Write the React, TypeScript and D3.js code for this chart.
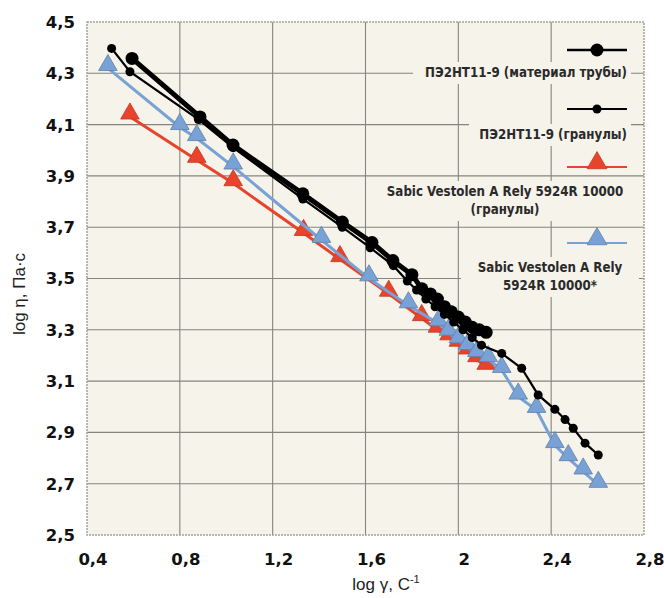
import React from "react";
import * as d3 from "d3";

// ПЭ2НТ11-9 (материал трубы) — крупные точки
const pipeX = [0.594, 0.887, 1.029, 1.33, 1.5, 1.628, 1.718, 1.8, 1.843, 1.88, 1.91, 1.94, 1.97, 2.0, 2.03, 2.06, 2.09, 2.12];
const pipeY = [4.358, 4.13, 4.02, 3.83, 3.72, 3.64, 3.57, 3.515, 3.46, 3.44, 3.42, 3.39, 3.37, 3.35, 3.33, 3.31, 3.3, 3.29];

// ПЭ2НТ11-9 (гранулы) — мелкие точки
const granX = [0.506, 0.585, 0.88, 1.03, 1.33, 1.5, 1.62, 1.72, 1.78, 1.82, 1.86, 1.9, 1.94, 1.98, 2.02, 2.06, 2.1, 2.187, 2.273, 2.344, 2.416, 2.46, 2.495, 2.546, 2.603];
const granY = [4.397, 4.306, 4.12, 4.01, 3.81, 3.7, 3.62, 3.55, 3.49, 3.455, 3.42, 3.39, 3.36, 3.33, 3.3, 3.27, 3.24, 3.208, 3.15, 3.046, 2.99, 2.95, 2.916, 2.858, 2.812];

// Sabic Vestolen A Rely 5924R 10000 (гранулы)
const redX = [0.585, 0.873, 1.03, 1.333, 1.49, 1.7, 1.842, 1.91, 1.96, 2.0, 2.04, 2.08, 2.12];
const redY = [4.131, 3.962, 3.871, 3.677, 3.575, 3.44, 3.345, 3.3, 3.27, 3.245, 3.215, 3.185, 3.155];

// Sabic Vestolen A Rely 5924R 10000*
const blueX = [0.49, 0.8, 0.873, 1.03, 1.41, 1.615, 1.785, 1.914, 1.957, 2.0, 2.04, 2.08, 2.129, 2.187, 2.258, 2.337, 2.416, 2.474, 2.538, 2.603];
const blueY = [4.32, 4.09, 4.047, 3.936, 3.65, 3.5, 3.395, 3.325, 3.288, 3.258, 3.232, 3.205, 3.185, 3.143, 3.039, 2.987, 2.85, 2.799, 2.747, 2.695];

const xTicks = [0.4, 0.8, 1.2, 1.6, 2, 2.4, 2.8];
const yTicks = [2.5, 2.7, 2.9, 3.1, 3.3, 3.5, 3.7, 3.9, 4.1, 4.3, 4.5];

const fmt = (v: number) => String(v).replace(".", ",");

export default function App() {
  const width = 664;
  const height = 598;
  const plot = { left: 87, right: 644, top: 22, bottom: 535 };
  const bg = "#f5f3ea";
  const gridColor = "#85857e";
  const red = "#e8432b";
  const blue = "#78a2d6";

  const x = d3.scaleLinear().domain([0.4, 2.8]).range([plot.left, plot.right]);
  const y = d3.scaleLinear().domain([2.5, 4.5]).range([plot.bottom, plot.top]);

  const line = d3
    .line<[number, number]>()
    .x((d) => x(d[0]))
    .y((d) => y(d[1]));

  const zip = (xs: number[], ys: number[]) => xs.map((v, i) => [v, ys[i]] as [number, number]);
  const pipe = zip(pipeX, pipeY);
  const gran = zip(granX, granY);
  const redPts = zip(redX, redY);
  const bluePts = zip(blueX, blueY);

  const tri = d3.symbol(d3.symbolTriangle, 150)() as string;
  const triLeg = d3.symbol(d3.symbolTriangle, 170)() as string;

  const tickFont = "'DejaVu Sans', sans-serif";
  const legFont = "'DejaVu Sans Condensed', 'DejaVu Sans', sans-serif";
  const titleFont = "'Liberation Sans', Arial, sans-serif";

  // легенда
  const legX1 = 567;
  const legX2 = 627;
  const legM = 597;
  const legendRows = [
    { y: 50, kind: "big" },
    { y: 109, kind: "small" },
    { y: 167, kind: "red" },
    { y: 243, kind: "blue" },
  ];
  const legendTexts = [
    { lines: ["ПЭ2НТ11-9 (материал трубы)"], x: 627, y: 77, anchor: "end" },
    { lines: ["ПЭ2НТ11-9 (гранулы)"], x: 627, y: 139, anchor: "end" },
    { lines: ["Sabic Vestolen A Rely 5924R 10000", "(гранулы)"], x: 505, y: 196, anchor: "middle" },
    { lines: ["Sabic Vestolen A Rely", "5924R  10000*"], x: 550, y: 272, anchor: "middle" },
  ];

  return (
    <svg width={width} height={height} style={{ position: "absolute", left: 0, top: 0, background: "#fff" }}>
      {/* фон поля */}
      <rect
        x={plot.left}
        y={plot.top}
        width={plot.right - plot.left}
        height={plot.bottom - plot.top}
        fill={bg}
      />

      {/* сетка */}
      {xTicks.slice(1, -1).map((t) => (
        <line key={"gx" + t} x1={x(t)} x2={x(t)} y1={plot.top} y2={plot.bottom} stroke={gridColor} strokeWidth={1.1} />
      ))}
      {yTicks.slice(1, -1).map((t) => (
        <line key={"gy" + t} x1={plot.left} x2={plot.right} y1={y(t)} y2={y(t)} stroke={gridColor} strokeWidth={1.1} />
      ))}
      <rect
        x={plot.left}
        y={plot.top}
        width={plot.right - plot.left}
        height={plot.bottom - plot.top}
        fill="none"
        stroke="#a3a39c"
        strokeWidth={1.5}
        strokeDasharray="2,1"
      />

      {/* подписи делений */}
      {yTicks.map((t) => (
        <text
          key={"ty" + t}
          x={75}
          y={y(t)}
          dy="0.36em"
          textAnchor="end"
          fontFamily={tickFont}
          fontWeight="bold"
          fontSize={16.5}
          fill="#111"
        >
          {fmt(t)}
        </text>
      ))}
      {xTicks.map((t) => (
        <text
          key={"tx" + t}
          x={x(t) + 6}
          y={565}
          textAnchor="middle"
          fontFamily={tickFont}
          fontWeight="bold"
          fontSize={16.5}
          fill="#111"
        >
          {fmt(t)}
        </text>
      ))}

      {/* названия осей */}
      <text
        transform={`translate(25,294) rotate(-90)`}
        textAnchor="middle"
        fontFamily={titleFont}
        fontSize={17}
        fill="#222"
      >
        log η, Па·с
      </text>
      <text x={386} y={590} textAnchor="middle" fontFamily={titleFont} fontSize={17} fill="#222">
        log γ, С<tspan dy={-7} fontSize={11}>-1</tspan>
      </text>

      {/* легенда: фон под подписями */}
      {legendTexts.map((l, i) => {
        const w = Math.max(...l.lines.map((s) => s.length)) * 8 + 10;
        const h = l.lines.length * 18 + 4;
        const x0 = l.anchor === "end" ? l.x - w + 4 : l.x - w / 2;
        return <rect key={"lb" + i} x={x0} y={l.y - 15} width={w} height={h} fill={bg} />;
      })}
      {legendTexts.map((l, i) => (
        <text
          key={"lt" + i}
          x={l.x}
          y={l.y}
          textAnchor={l.anchor as "end" | "middle"}
          fontFamily={legFont}
          fontWeight="bold"
          fontSize={13.2}
          fill="#2a2a2a"
        >
          {l.lines.map((s, j) => (
            <tspan key={j} x={l.x} dy={j === 0 ? 0 : 18}>
              {s}
            </tspan>
          ))}
        </text>
      ))}
      {legendRows.map((r) => (
        <g key={"lr" + r.kind}>
          <line
            x1={legX1}
            x2={legX2}
            y1={r.y}
            y2={r.y}
            stroke={r.kind === "red" ? red : r.kind === "blue" ? blue : "#000"}
            strokeWidth={r.kind === "big" ? 2.5 : 2.2}
          />
          {r.kind === "big" && <circle cx={legM} cy={r.y} r={6.5} fill="#000" />}
          {r.kind === "small" && <circle cx={legM} cy={r.y} r={4.5} fill="#000" />}
          {r.kind === "red" && (
            <path d={triLeg} transform={`translate(${legM},${r.y - 4})`} fill={red} stroke="#c23a26" strokeWidth={0.8} />
          )}
          {r.kind === "blue" && (
            <path d={triLeg} transform={`translate(${legM},${r.y - 4})`} fill={blue} stroke="#5f7fa8" strokeWidth={0.8} />
          )}
        </g>
      ))}

      {/* серии */}
      <path d={line(redPts) || ""} fill="none" stroke={red} strokeWidth={3} />
      {redPts.map((d, i) => (
        <path key={"r" + i} d={tri} transform={`translate(${x(d[0])},${y(d[1]) - 3})`} fill={red} stroke="#c23a26" strokeWidth={0.8} />
      ))}

      <path d={line(bluePts) || ""} fill="none" stroke={blue} strokeWidth={3} />
      {bluePts.map((d, i) => (
        <path key={"b" + i} d={tri} transform={`translate(${x(d[0])},${y(d[1]) - 3})`} fill={blue} stroke="#5f7fa8" strokeWidth={0.8} />
      ))}

      <path d={line(gran) || ""} fill="none" stroke="#000" strokeWidth={2.2} />
      {gran.map((d, i) => (
        <circle key={"g" + i} cx={x(d[0])} cy={y(d[1])} r={4.5} fill="#000" />
      ))}

      <path d={line(pipe) || ""} fill="none" stroke="#000" strokeWidth={5} />
      {pipe.map((d, i) => (
        <circle key={"p" + i} cx={x(d[0])} cy={y(d[1])} r={6.5} fill="#000" />
      ))}
    </svg>
  );
}
